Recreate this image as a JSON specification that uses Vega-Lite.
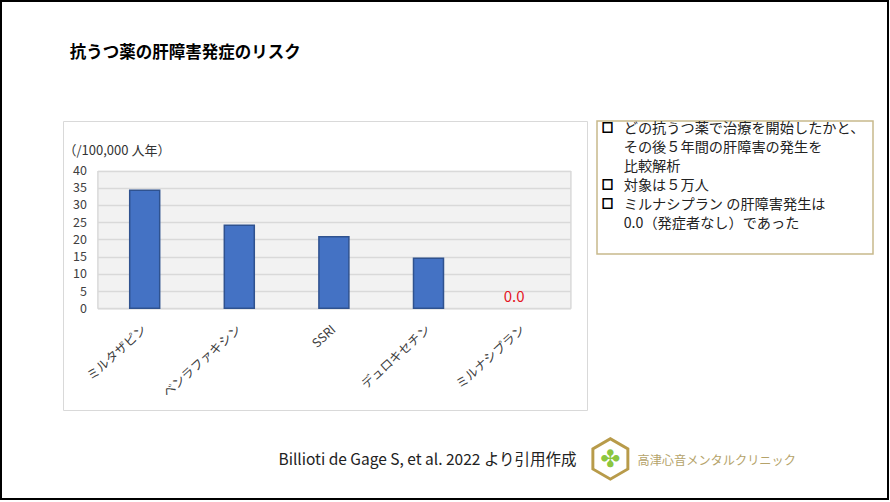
{
  "$schema": "https://vega.github.io/schema/vega-lite/v6.json",
  "padding": 0,
  "background": "white",
  "config": {
    "font": "Noto Sans CJK JP",
    "view": {"stroke": null},
    "axis": {"labelFont": "Noto Sans CJK JP", "titleFont": "Noto Sans CJK JP"},
    "title": {"font": "Noto Sans CJK JP"}
  },
  "columns": 1,
  "align": "none",
  "spacing": -456,
  "concat": [
    {
      "width": 887,
      "height": 498,
      "view": {"stroke": "#000000", "strokeWidth": 2, "fill": "white"},
      "data": {"values": [{}]},
      "mark": {"type": "text"},
      "encoding": {"text": {"value": ""}}
    },
    {
      "spacing": -2,
      "hconcat": [
        {
          "width": 62,
          "height": 10,
          "data": {"values": [{}]},
          "mark": {"type": "text"},
          "encoding": {"text": {"value": ""}}
        },
        {
          "width": 524,
          "height": 289,
          "view": {"stroke": "#d9d9d9", "strokeWidth": 1, "fill": "white"},
          "title": {
            "text": "抗うつ薬の肝障害発症のリスク",
            "anchor": "start",
            "frame": "group",
            "dx": 6.7,
            "offset": 60,
            "fontSize": 16.5,
            "fontWeight": "bold",
            "color": "#000000"
          },
          "data": {
            "values": [
              {"drug": "ミルタザピン", "value": 34.3},
              {"drug": "ベンラファキシン", "value": 24.1},
              {"drug": "SSRI", "value": 20.8},
              {"drug": "デュロキセチン", "value": 14.5},
              {"drug": "ミルナシプラン", "value": 0}
            ]
          },
          "encoding": {
            "x": {
              "field": "drug",
              "type": "nominal",
              "sort": null,
              "scale": {"range": [34.4, 507.4], "paddingInner": 0.683, "paddingOuter": 0.3415}
            },
            "y": {
              "field": "value",
              "type": "quantitative",
              "scale": {"domain": [0, 40], "range": [187.3, 49.5], "nice": false}
            }
          },
          "layer": [
            {
              "mark": {"type": "text", "color": "#e4141e", "fontSize": 15, "baseline": "alphabetic", "dy": -6, "dx": -9},
              "encoding": {
                "x": {
                  "field": "drug",
                  "type": "nominal",
                  "sort": null,
                  "axis": {
                    "orient": "bottom",
                    "offset": -101.7,
                    "ticks": false,
                    "domainColor": "#d9d9d9",
                    "domainWidth": 1.5,
                    "labelAngle": -42,
                    "labelAlign": "right",
                    "labelBaseline": "middle",
                    "labelFontSize": 12.5,
                    "labelColor": "#404040",
                    "labelPadding": 19,
                    "title": "Billioti de Gage S, et al. 2022 より引用作成",
                    "titleX": 215,
                    "titleY": 150.7,
                    "titleAlign": "left",
                    "titleBaseline": "middle",
                    "titleFontSize": 15.5,
                    "titleFontWeight": "normal",
                    "titleColor": "#222222"
                  }
                },
                "y": {
                  "field": "value",
                  "type": "quantitative",
                  "axis": {
                    "orient": "left",
                    "offset": -34.4,
                    "minExtent": 0,
                    "values": [20],
                    "labels": false,
                    "ticks": false,
                    "domain": false,
                    "grid": true,
                    "gridColor": "#f2f2f2",
                    "gridWidth": 137.8,
                    "title": null
                  }
                },
                "text": {
                  "condition": {"test": "datum.value === 0", "field": "value", "type": "quantitative", "format": ".1f"},
                  "value": ""
                }
              }
            },
            {
              "mark": {"type": "bar", "fill": "#4472c4", "stroke": "#2f528f"},
              "encoding": {
                "y": {
                  "field": "value",
                  "type": "quantitative",
                  "axis": {
                    "orient": "left",
                    "offset": -34.4,
                    "values": [0, 5, 10, 15, 20, 25, 30, 35, 40],
                    "labelOverlap": false,
                    "grid": true,
                    "gridColor": "#d9d9d9",
                    "gridWidth": 1.5,
                    "ticks": false,
                    "domain": true,
                    "domainColor": "#d9d9d9",
                    "domainWidth": 1.5,
                    "labelPadding": 11,
                    "labelFontSize": 12.5,
                    "labelColor": "#404040",
                    "title": "（/100,000 人年）",
                    "titleAngle": 0,
                    "titleAlign": "left",
                    "titleBaseline": "middle",
                    "titleX": -34.4,
                    "titleY": 29,
                    "titleFontSize": 13,
                    "titleFontWeight": "normal",
                    "titleColor": "#333333"
                  }
                },
                "strokeWidth": {
                  "condition": {"test": "datum.value === 0", "value": 0},
                  "value": 1.5
                }
              }
            },
            {
              "mark": {"type": "text"},
              "encoding": {
                "y": {
                  "field": "value",
                  "type": "quantitative",
                  "axis": {
                    "orient": "right",
                    "offset": -16.6,
                    "minExtent": 0,
                    "labels": false,
                    "ticks": false,
                    "grid": false,
                    "domainColor": "#d9d9d9",
                    "domainWidth": 1.5,
                    "title": null
                  }
                },
                "text": {"value": ""}
              }
            }
          ],
          "resolve": {"axis": {"y": "independent"}}
        },
        {
          "width": 276,
          "height": 133,
          "view": {"stroke": "#c8b98c", "strokeWidth": 1.5, "fill": "white"},
          "data": {
            "values": [
              {"line": 1, "bullet": "□", "text": "どの抗うつ薬で治療を開始したかと、"},
              {"line": 2, "bullet": "", "text": "その後５年間の肝障害の発生を"},
              {"line": 3, "bullet": "", "text": "比較解析"},
              {"line": 4, "bullet": "□", "text": "対象は５万人"},
              {"line": 5, "bullet": "□", "text": "ミルナシプラン の肝障害発生は"},
              {"line": 6, "bullet": "", "text": "0.0（発症者なし）であった"}
            ]
          },
          "encoding": {
            "x": {
              "datum": 0,
              "type": "quantitative",
              "scale": {"domain": [0, 1]},
              "axis": {
                "labels": false,
                "ticks": false,
                "domain": false,
                "grid": false,
                "title": "高津心音メンタルクリニック",
                "titleX": 40,
                "titleY": 206,
                "titleAlign": "left",
                "titleBaseline": "middle",
                "titleFontSize": 12.2,
                "titleFontWeight": "normal",
                "titleColor": "#b5a36a"
              }
            }
          },
          "layer": [
            {
              "mark": {"type": "text", "align": "center", "baseline": "middle", "dx": 10.5, "fontSize": 11.5, "fontWeight": "bold", "color": "#000000", "stroke": "#000000", "strokeWidth": 0.9},
              "encoding": {
                "y": {
                  "field": "line",
                  "type": "ordinal",
                  "scale": {"type": "point", "padding": 1.194, "align": 0.209},
                  "axis": {
                    "labels": false,
                    "ticks": false,
                    "domain": false,
                    "grid": false,
                    "title": "⬡",
                    "titleAngle": 0,
                    "titleX": 12.7,
                    "titleY": 338,
                    "titleAlign": "center",
                    "titleBaseline": "middle",
                    "titleFont": "DejaVu Sans",
                    "titleFontSize": 52,
                    "titleFontWeight": "normal",
                    "titleColor": "#b89b4a"
                  }
                },
                "text": {"field": "bullet"}
              }
            },
            {
              "mark": {"type": "text", "align": "left", "baseline": "middle", "dx": 26.7, "fontSize": 14.2, "color": "#222222"},
              "encoding": {
                "y": {
                  "field": "line",
                  "type": "ordinal",
                  "axis": {
                    "orient": "right",
                    "minExtent": 0,
                    "labels": false,
                    "ticks": false,
                    "domain": false,
                    "grid": false,
                    "title": "✤",
                    "titleAngle": 0,
                    "titleX": -263.3,
                    "titleY": 338,
                    "titleAlign": "center",
                    "titleBaseline": "middle",
                    "titleFont": "DejaVu Sans",
                    "titleFontSize": 24,
                    "titleFontWeight": "normal",
                    "titleColor": "#8cc63f"
                  }
                },
                "text": {"field": "text"}
              }
            }
          ],
          "resolve": {"axis": {"y": "independent"}}
        }
      ]
    }
  ]
}
